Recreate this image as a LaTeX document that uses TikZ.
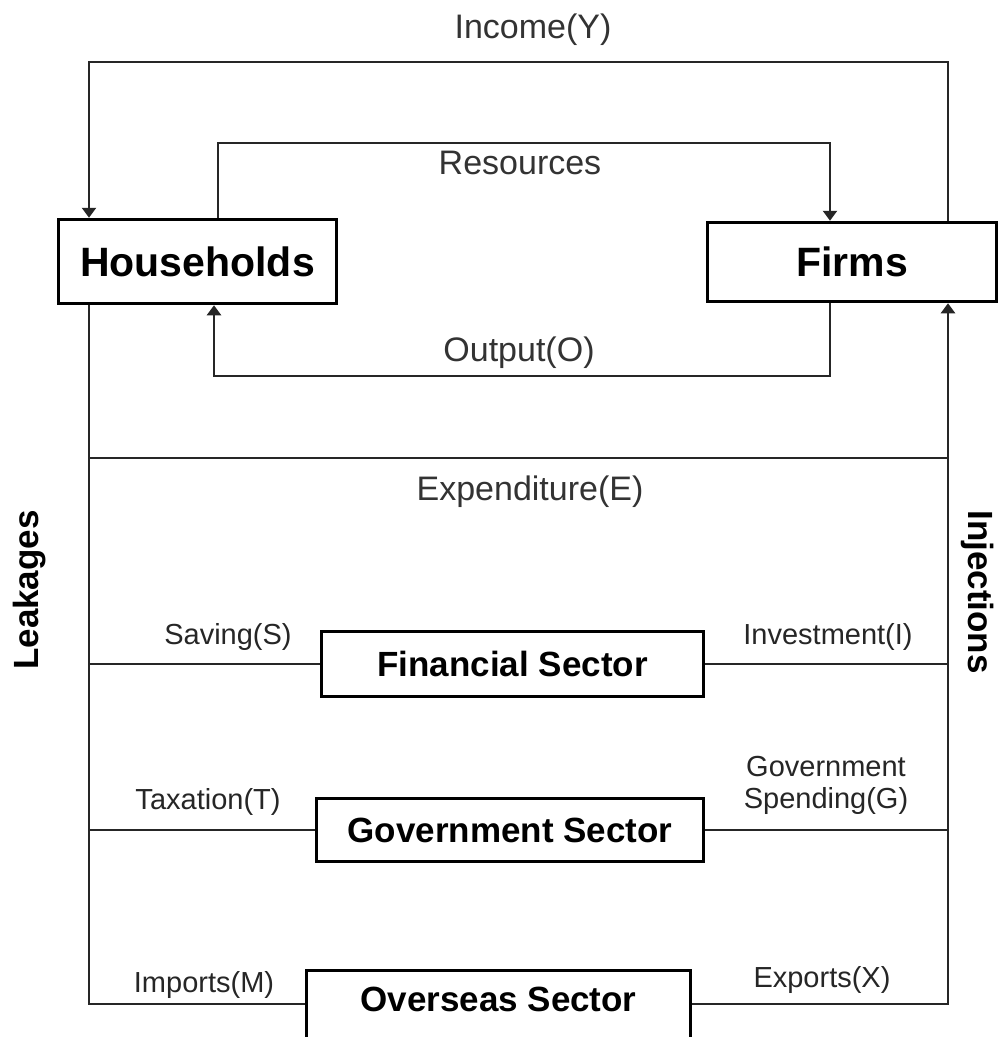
\documentclass[tikz,border=0pt]{standalone}
\usepackage{fontspec}
\setmainfont{Liberation Sans}
\usetikzlibrary{arrows.meta,calc}
\begin{document}
\begin{tikzpicture}[x=1pt,y=-1pt,
  thinline/.style={line width=2.3pt,black!85},
  arr/.style={thinline,-{Triangle[length=10pt,width=14pt]}},
  bigbox/.style={draw,line width=3.5pt,inner sep=0pt,font=\fontsize{41}{44}\selectfont\bfseries},
  secbox/.style={draw,line width=3pt,inner sep=0pt,font=\fontsize{35}{38}\selectfont\bfseries},
  biglab/.style={font=\fontsize{34}{37}\selectfont,text=black!80},
  smalllab/.style={font=\fontsize{29}{32}\selectfont,text=black!85,align=center},
  sidelab/.style={font=\fontsize{35}{38}\selectfont\bfseries}]
\useasboundingbox (0,0) rectangle (1003,1037);
\clip (0,0) rectangle (1003,1037);
\fill[white] (0,0) rectangle (1003,1037);
% main boxes
\node[bigbox,minimum width=278pt,minimum height=84pt] (hh) at (197.5,261.5) {Households};
\node[bigbox,minimum width=289pt,minimum height=79pt] (firms) at (852,262) {Firms};
% sector boxes
\node[secbox,minimum width=382pt,minimum height=65pt] (fin) at (512.5,664) {Financial Sector};
\node[secbox,minimum width=387pt,minimum height=63pt] (gov) at (510,830) {Government Sector};
\node[secbox,minimum width=384pt,minimum height=72pt,text depth=14pt] (ovs) at (498.5,1006) {Overseas Sector};
% coordinates
\coordinate (incL) at (89,62);
\coordinate (incR) at (948,62);
\coordinate (resL) at (218,143);
\coordinate (resR) at (830,143);
\coordinate (outL) at (214,376);
\coordinate (outR) at (830,376);
\coordinate (expL) at (89,458);
\coordinate (expR) at (948,458);
\coordinate (botL) at (89,1004);
\coordinate (botR) at (948,1004);
% income
\draw[arr] (firms.north -| incR) -- (incR) -- (incL) -- (hh.north -| incL);
% resources
\draw[arr] (hh.north -| resL) -- (resL) -- (resR) -- (firms.north -| resR);
% output
\draw[arr] (firms.south -| outR) -- (outR) -- (outL) -- (hh.south -| outL);
% leakages / injections verticals
\draw[thinline] (hh.south -| botL) -- (botL) -- (ovs.west |- botL);
\draw[arr] (ovs.east |- botR) -- (botR) -- (firms.south -| botR);
% expenditure
\draw[thinline] (expL) -- (expR);
% sector connections
\draw[thinline] (fin.west -| botL) -- (fin.west);
\draw[thinline] (fin.east) -- (fin.east -| botR);
\draw[thinline] (gov.west -| botL) -- (gov.west);
\draw[thinline] (gov.east) -- (gov.east -| botR);
% labels
\node[biglab] (lincome) at (533,30) {Income(Y)};
\node[biglab] (lres) at (520,163) {Resources};
\node[biglab] (lout) at (519,353) {Output(O)};
\node[biglab] (lexp) at (530,492) {Expenditure(E)};
\node[smalllab] (lsav) at (228,637) {Saving(S)};
\node[smalllab] (linv) at (828,637) {Investment(I)};
\node[smalllab] (ltax) at (208,802) {Taxation(T)};
\node[smalllab] (lgsp) at (826,785) {Government\\Spending(G)};
\node[smalllab] (limp) at (204,985) {Imports(M)};
\node[smalllab] (lexpx) at (822,980) {Exports(X)};
\node[sidelab,rotate=90] (leak) at (30,590) {Leakages};
\node[sidelab,rotate=-90] (inj) at (978,592) {Injections};
\end{tikzpicture}
\end{document}
